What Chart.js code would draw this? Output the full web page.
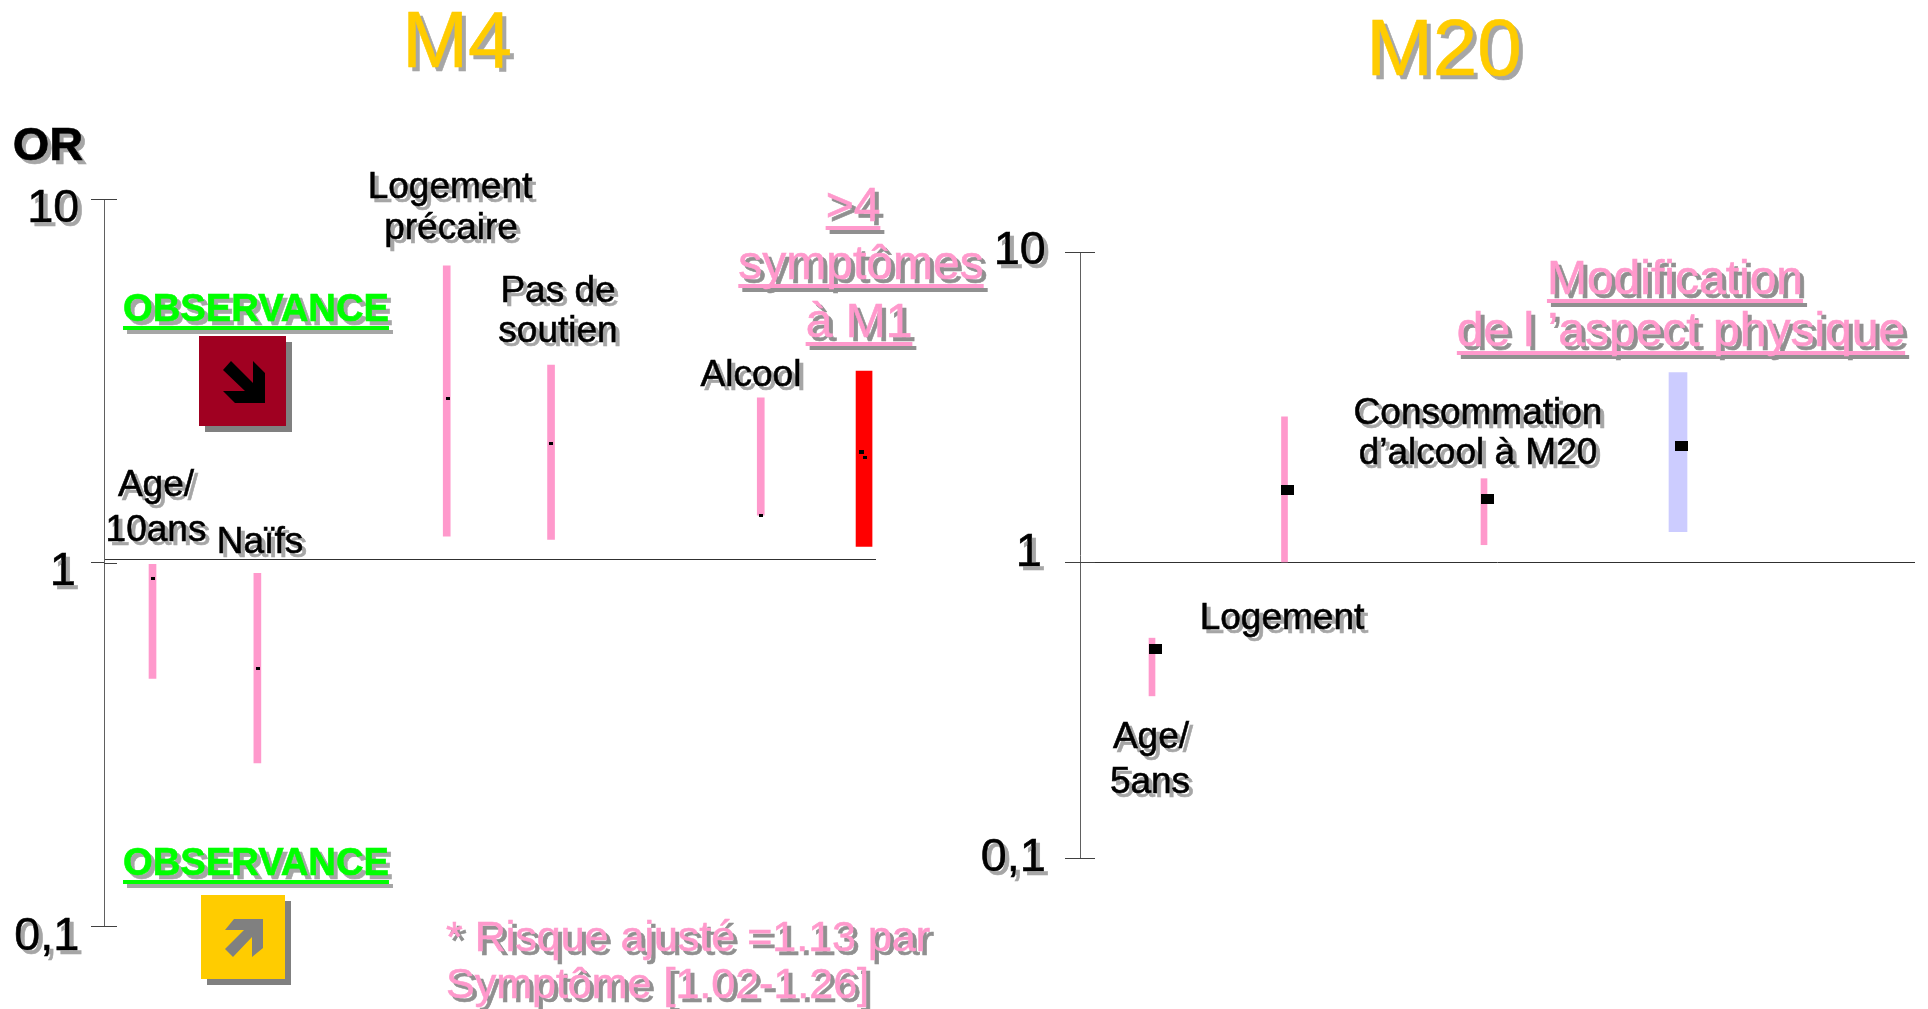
<!DOCTYPE html>
<html>
<head>
<meta charset="utf-8">
<script src="https://cdn.jsdelivr.net/npm/chart.js@4"></script>
<style>
  html, body { margin: 0; padding: 0; background: #fff; overflow: hidden; }
  canvas { position: absolute; left: 0; top: 0; }
</style>
</head>
<body>
<canvas id="chartM4" width="1928" height="1009"></canvas>
<canvas id="chartM20" width="1928" height="1009"></canvas>
<script>
// odds ratios
const tickValues = [0.1, 1, 10];
const tickLabels = ['0,1', '1', '10'];

// M4, in the order of the picture
const m4Groups = ['Age/10ans', 'Naïfs', 'Logement précaire', 'Pas de soutien', 'Alcool', '>4 symptômes à M1'];
const m4Slots = [0.465, 1.47, 3.285, 4.285, 6.295, 7.285];
const m4Low = [0.48, 0.281, 1.181, 1.158, 1.349, 1.108];
const m4High = [0.989, 0.934, 6.55, 3.49, 2.84, 3.36];
const m4OrSlots = [0.47, 1.476, 3.3, 4.285, 6.3, 7.263, 7.297];
const m4Or = [0.904, 0.511, 2.82, 2.13, 1.349, 2.02, 1.94];
const m4Baseline = 1.019;

// M20
const m20Groups = ['Age/5ans', 'Logement', "Consommation d'alcool à M20", "Modification de l'aspect physique"];
const m20Slots = [0.72, 2.045, 4.04, 5.98];
const m20Low = [0.353, 1, 1.137, 1.253];
const m20High = [0.553, 2.94, 1.857, 4.08];
const m20OrSlots = [0.755, 2.075, 4.075, 6.01];
const m20Or = [0.507, 1.71, 1.601, 2.373];

const PINK = '#FF99CC';
const BLACK = '#000000';
const GREEN = '#00FF00';
const GOLD = '#FFCC00';
const SANS = '"Liberation Sans", Arial, sans-serif';

const m4Texts = [
    { text: 'M4', x: 457, y: 67, size: 79, color: GOLD },
    { text: 'OR', x: 48, y: 160, size: 47, bold: true, color: BLACK },
    { text: 'Logement', x: 450, y: 198, size: 37, color: BLACK },
    { text: 'précaire', x: 451, y: 239, size: 37, color: BLACK },
    { text: 'Pas de', x: 558, y: 302, size: 37, color: BLACK },
    { text: 'soutien', x: 558, y: 342, size: 37, color: BLACK },
    { text: 'Alcool', x: 751, y: 386, size: 37, color: BLACK },
    { text: 'Age/', x: 156, y: 496, size: 37, color: BLACK },
    { text: '10ans', x: 156, y: 541, size: 37, color: BLACK },
    { text: 'Naïfs', x: 260, y: 553, size: 37, color: BLACK },
    { text: '>4', x: 853, y: 221, size: 48, color: PINK, underline: true },
    { text: 'symptômes', x: 861, y: 279, size: 48, color: PINK, underline: true },
    { text: 'à M1', x: 859, y: 337, size: 48, color: PINK, underline: true },
    { text: 'OBSERVANCE', x: 256, y: 321, size: 38.2, bold: true, color: GREEN, underline: true },
    { text: 'OBSERVANCE', x: 256, y: 875, size: 38.2, bold: true, color: GREEN, underline: true },
    { text: '* Risque ajusté =1.13 par', x: 446, y: 951, size: 43, color: PINK, align: 'left' },
    { text: 'Symptôme [1.02-1.26]', x: 446, y: 998, size: 43, color: PINK, align: 'left' }
];

const m20Texts = [
    { text: 'M20', x: 1444, y: 75, size: 80, color: GOLD },
    { text: 'Modification', x: 1675, y: 294, size: 48, color: PINK, underline: true },
    { text: 'de l ’aspect physique', x: 1681, y: 346, size: 48, color: PINK, underline: true },
    { text: 'Consommation', x: 1478, y: 424, size: 37, color: BLACK },
    { text: 'd’alcool à M20', x: 1478, y: 464, size: 37, color: BLACK },
    { text: 'Logement', x: 1282, y: 629, size: 37, color: BLACK },
    { text: 'Age/', x: 1151, y: 748, size: 37, color: BLACK },
    { text: '5ans', x: 1150, y: 793, size: 37, color: BLACK }
];

const drawText = (ctx, item, dx, dy, color) => {
    ctx.font = `${item.bold ? 'bold ' : ''}${item.size}px ${SANS}`;
    ctx.textAlign = item.align || 'center';
    ctx.textBaseline = 'alphabetic';
    ctx.fillStyle = color;
    ctx.strokeStyle = color;
    ctx.lineWidth = 0.6;
    ctx.fillText(item.text, item.x + dx, item.y + dy);
    ctx.strokeText(item.text, item.x + dx, item.y + dy);
    if (item.underline) {
        const w = ctx.measureText(item.text).width;
        const left = item.align === 'left' ? item.x : item.x - w / 2;
        ctx.fillRect(left + dx, item.y + dy + 5, w, 4);
    }
};

const drawArrow = (ctx, points, color) => {
    ctx.fillStyle = color;
    ctx.beginPath();
    points.forEach(([x, y], i) => (i ? ctx.lineTo(x, y) : ctx.moveTo(x, y)));
    ctx.closePath();
    ctx.fill();
};

const drawBadge = (ctx, x, y, w, h, color) => {
    ctx.fillStyle = '#808080';
    ctx.fillRect(x + 6, y + 6, w, h);
    ctx.fillStyle = color;
    ctx.fillRect(x, y, w, h);
};

const slideText = {
    id: 'slideText',
    afterDraw(chart, args, opts) {
        const ctx = chart.ctx;
        ctx.save();
        opts.items.forEach((item) => {
            drawText(ctx, item, 4, 4, item.color === PINK ? '#909090' : '#A6A6A6');
            drawText(ctx, item, 0, 0, item.color);
        });
        if (opts.badges) {
            drawBadge(ctx, 199, 336, 87, 90, '#A00021');
            drawArrow(ctx, [[223, 370], [231, 361], [253, 383], [253, 361], [265, 373], [265, 403], [235, 403], [223, 391], [245, 391]], '#000000');
            drawBadge(ctx, 201, 895, 84, 84, GOLD);
            drawArrow(ctx, [[225, 930], [234, 919], [263, 919], [263, 948], [252, 957], [252, 937], [233, 957], [225, 949], [244, 930]], '#808080');
        }
        ctx.restore();
    }
};

// ticks cross the axis: the library draws the outer half, this one the inner half
const innerTicks = {
    id: 'innerTicks',
    afterDraw(chart, args, opts) {
        const y = chart.scales.y;
        const ctx = chart.ctx;
        ctx.save();
        ctx.strokeStyle = '#404040';
        ctx.lineWidth = 1;
        opts.values.forEach((v) => {
            const py = Math.round(y.getPixelForValue(v)) + 0.5;
            ctx.beginPath();
            ctx.moveTo(y.right, py);
            ctx.lineTo(y.right + opts.length, py);
            ctx.stroke();
        });
        ctx.restore();
    }
};

// tick labels get the hard shadow of the slide, and each sits a bit differently
const tickShadow = {
    id: 'tickShadow',
    beforeDraw(chart, args, opts) {
        const y = chart.scales.y;
        if (y.shadowWrapped) return;
        y.getLabelItems().forEach((item, i) => {
            item.options.translation[0] += opts.nudge[i][0];
            item.options.translation[1] += opts.nudge[i][1];
        });
        const drawLabels = y.drawLabels;
        y.drawLabels = function (area) {
            const ctx = this.ctx;
            ctx.save();
            ctx.shadowColor = '#A6A6A6';
            ctx.shadowOffsetX = 4;
            ctx.shadowOffsetY = 4;
            ctx.shadowBlur = 0;
            drawLabels.call(this, area);
            ctx.restore();
        };
        y.shadowWrapped = true;
    }
};

// on the M20 slide the upper and lower decades are not the same height
class SlideLogScale extends Chart.LogarithmicScale {
    getPixelForDecimal(d) {
        const split = this.options.lowerShare;
        const out = d <= 0.5 ? d * 2 * split : split + (d - 0.5) * 2 * (1 - split);
        return super.getPixelForDecimal(out);
    }
}
SlideLogScale.id = 'slideLog';
SlideLogScale.defaults = Chart.LogarithmicScale.defaults;
Chart.register(SlideLogScale);

const barData = (slots, low, high, idx) => idx.map((i) => ({ x: slots[i], y: [low[i], high[i]] }));
const orData = (slots, values) => values.map((v, i) => ({ x: slots[i], y: v }));

const marker = (w, h) => {
    const c = document.createElement('canvas');
    c.width = w;
    c.height = h;
    const g = c.getContext('2d');
    g.fillStyle = '#000';
    g.fillRect(0, 0, w, h);
    return c;
};

const yAxis = (type, width, tickLength, extra) => ({
    type,
    min: 0.1,
    max: 10,
    afterFit: (s) => { s.width = width; },
    afterBuildTicks: (s) => { s.ticks = tickValues.map((value) => ({ value })); },
    grid: { drawOnChartArea: false, tickLength, color: '#404040', lineWidth: 1 },
    border: { color: '#606060', width: 1 },
    ticks: {
        autoSkip: false,
        maxRotation: 0,
        padding: 9,
        color: '#000',
        textStrokeColor: '#000',
        textStrokeWidth: 0.6,
        font: { family: SANS, size: 47 },
        callback: (v) => tickLabels[tickValues.indexOf(v)]
    },
    ...extra
});

const baseOptions = (padding, xMax, baseline, y, textOpts, tickLength, nudge) => ({
    responsive: false,
    animation: false,
    layout: { padding },
    plugins: {
        legend: { display: false },
        tooltip: { enabled: false },
        slideText: textOpts,
        innerTicks: { values: tickValues, length: tickLength },
        tickShadow: { nudge }
    },
    scales: {
        x: {
            type: 'linear',
            min: 0,
            max: xMax,
            offset: false,
            position: { y: baseline },
            grid: { display: false },
            ticks: { display: false },
            border: { color: '#303030', width: 1 }
        },
        y
    }
});

const smallDot = marker(4, 3);
const bigDot = marker(5, 4);

new Chart(document.getElementById('chartM4'), {
    type: 'bar',
    data: {
        datasets: [
            { label: 'M4', data: barData(m4Slots, m4Low, m4High, [0, 1, 2, 3, 4]), backgroundColor: PINK, barThickness: 7, grouped: false, order: 2 },
            { label: '>4 symptômes', data: barData(m4Slots, m4Low, m4High, [5]), backgroundColor: '#FF0000', barThickness: 16, grouped: false, order: 2 },
            {
                type: 'scatter',
                label: 'OR',
                data: orData(m4OrSlots, m4Or),
                pointStyle: m4Or.map((v, i) => (i === 5 ? bigDot : smallDot)),
                pointRadius: 2,
                order: 1
            }
        ]
    },
    options: baseOptions({ left: 0, top: 199, right: 1053, bottom: 83 }, 7.39, m4Baseline,
        yAxis('logarithmic', 104, 13, {}), { items: m4Texts, badges: true }, 13,
        [[-2.5, 11], [-6, 10], [-2.5, 10]]),
    plugins: [tickShadow, innerTicks, slideText]
});

new Chart(document.getElementById('chartM20'), {
    type: 'bar',
    data: {
        datasets: [
            { label: 'M20', data: barData(m20Slots, m20Low, m20High, [0, 1, 2]), backgroundColor: PINK, barThickness: 6, grouped: false, order: 2 },
            { label: 'Modification', data: barData(m20Slots, m20Low, m20High, [3]), backgroundColor: '#CCCCFF', barThickness: 18, grouped: false, order: 2 },
            { type: 'scatter', label: 'OR', data: orData(m20OrSlots, m20Or), pointStyle: marker(13, 10), pointRadius: 6, order: 1 }
        ]
    },
    options: baseOptions({ left: 960, top: 252, right: 14, bottom: 151 }, 8.34, 1,
        yAxis('slideLog', 120, 15, { lowerShare: 296 / 606 }), { items: m20Texts, badges: false }, 15,
        [[-10, 0], [-14, -9], [-10, -1]]),
    plugins: [tickShadow, innerTicks, slideText]
});
</script>
</body>
</html>
